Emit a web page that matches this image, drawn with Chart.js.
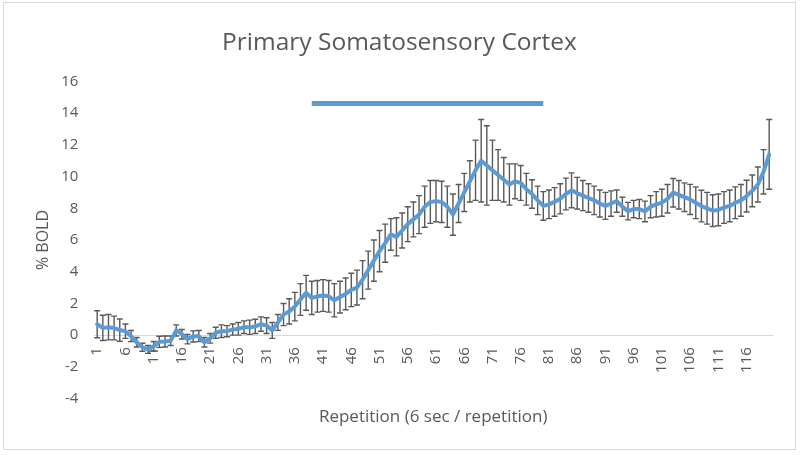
<!DOCTYPE html>
<html><head><meta charset="utf-8">
<script src="https://cdn.jsdelivr.net/npm/chart.js@4.4.0/dist/chart.umd.min.js"></script>
<style>
html,body{margin:0;padding:0;background:#fff}
#wrap{position:relative;width:800px;height:455px}
#frame{position:absolute;left:3px;top:2px;width:791px;height:446px;border:1px solid #d9d9d9;pointer-events:none}
</style></head><body>
<div id="wrap"><canvas id="c"></canvas><div id="frame"></div></div>
<script>
const categories = [1,2,3,4,5,6,7,8,9,10,11,12,13,14,15,16,17,18,19,20,
21,22,23,24,25,26,27,28,29,30,31,32,33,34,35,36,37,38,39,40,
41,42,43,44,45,46,47,48,49,50,51,52,53,54,55,56,57,58,59,60,
61,62,63,64,65,66,67,68,69,70,71,72,73,74,75,76,77,78,79,80,
81,82,83,84,85,86,87,88,89,90,91,92,93,94,95,96,97,98,99,100,
101,102,103,104,105,106,107,108,109,110,111,112,113,114,115,116,117,118,119,120];

const meanBold = [0.69,0.46,0.5,0.45,0.32,0.25,-0.06,-0.45,-0.76,-0.9,
-0.7,-0.42,-0.4,-0.35,0.3,0.06,-0.25,-0.08,-0.06,-0.45,
-0.2,0.15,0.25,0.25,0.35,0.4,0.5,0.5,0.55,0.7,
0.6,0.3,0.8,1.3,1.5,1.8,2.25,2.67,2.35,2.45,
2.5,2.45,2.2,2.4,2.6,2.85,3.0,3.5,4.1,4.7,
5.3,5.8,6.35,6.2,6.6,7.0,7.3,7.6,8.1,8.4,
8.45,8.4,8.1,7.6,8.3,9.0,9.7,10.4,11.0,10.7,
10.4,10.1,9.8,9.5,9.7,9.6,9.2,8.9,8.5,8.15,
8.25,8.4,8.6,8.9,9.13,8.95,8.8,8.65,8.5,8.3,
8.15,8.3,8.45,8.1,7.82,7.95,7.95,7.8,8.1,8.25,
8.35,8.6,8.98,8.85,8.7,8.56,8.35,8.14,8.0,7.85,
7.9,8.05,8.15,8.35,8.5,8.77,9.1,9.5,10.3,11.4];

const errBold = [0.85,0.8,0.8,0.75,0.7,0.45,0.35,0.3,0.25,0.25,
0.3,0.35,0.35,0.3,0.35,0.3,0.3,0.35,0.35,0.3,
0.3,0.35,0.4,0.35,0.35,0.4,0.4,0.45,0.45,0.45,
0.5,0.5,0.5,0.7,0.8,0.9,1.0,1.1,1.05,1.0,
1.0,1.0,1.05,1.0,1.0,1.05,1.1,1.2,1.2,1.3,
1.3,1.2,1.0,1.2,1.1,1.1,1.1,1.2,1.3,1.35,
1.3,1.3,1.3,1.3,1.2,1.2,1.3,1.9,2.6,2.5,
1.9,1.6,1.4,1.3,1.1,1.1,1.0,0.9,0.9,0.9,
0.9,0.9,0.95,1.0,1.1,1.0,0.95,0.9,0.9,0.85,
0.85,0.8,0.7,0.6,0.55,0.55,0.6,0.65,0.7,0.8,
0.85,0.9,0.9,0.9,0.9,0.95,1.0,1.0,1.0,1.0,
1.0,1.0,1.0,1.0,1.0,1.0,1.0,1.1,1.4,2.2];

const stimValue = 14.6;
const stimStart = 39;
const stimEnd = 80;
const stimLine = categories.map(c => (c >= stimStart && c <= stimEnd) ? stimValue : null);

const yTicks = [-4,-2,0,2,4,6,8,10,12,14,16];

const gray = '#595959';
const blue = '#5B9BD5';
const FONT = '"Open Sans", Lato, sans-serif';

const errorBars = {
  id: 'errorBars',
  beforeDatasetsDraw(chart) {
    const {ctx, scales: {x, y}} = chart;
    ctx.save();
    ctx.strokeStyle = gray;
    ctx.lineWidth = 1.4;
    meanBold.forEach((m, i) => {
      const px = x.getPixelForValue(i);
      const top = y.getPixelForValue(m + errBold[i]);
      const bot = y.getPixelForValue(m - errBold[i]);
      ctx.beginPath();
      ctx.moveTo(px, top); ctx.lineTo(px, bot);
      ctx.moveTo(px - 3, top); ctx.lineTo(px + 3, top);
      ctx.moveTo(px - 3, bot); ctx.lineTo(px + 3, bot);
      ctx.stroke();
    });
    ctx.restore();
  }
};

new Chart(document.getElementById('c'), {
  type: 'line',
  data: {
    labels: categories,
    datasets: [
      {
        label: 'Stimulation',
        data: stimLine,
        borderColor: blue,
        borderWidth: 5,
        pointRadius: 0,
        spanGaps: false,
        borderCapStyle: 'butt'
      },
      {
        label: '% BOLD',
        data: meanBold,
        borderColor: blue,
        borderWidth: 4,
        pointRadius: 0,
        tension: 0,
        borderJoinStyle: 'round',
        borderCapStyle: 'round'
      }
    ]
  },
  options: {
    responsive: true,
    maintainAspectRatio: false,
    animation: false,
    layout: { padding: { left: 27, right: 28, top: 18, bottom: 24 } },
    plugins: {
      legend: { display: false },
      tooltip: { enabled: false },
      title: {
        display: true,
        text: 'Primary Somatosensory Cortex',
        color: gray,
        font: { family: FONT, size: 24.5, weight: 'normal' },
        padding: { top: 10, bottom: 24 }
      }
    },
    scales: {
      x: {
        type: 'category',
        offset: true,
        position: { y: 0 },
        grid: { display: false },
        border: { display: true, color: '#d9d9d9', width: 1 },
        ticks: {
          autoSkip: false,
          maxRotation: 90,
          minRotation: 90,
          padding: 4,
          color: gray,
          font: { family: FONT, size: 15 },
          callback: (v, i) => (i % 5 === 0 ? String(categories[i]) : '')
        }
      },
      x2: {
        type: 'category',
        labels: categories,
        offset: true,
        position: 'bottom',
        grid: { display: false },
        border: { display: false },
        ticks: { display: false },
        title: {
          display: true,
          text: 'Repetition (6 sec / repetition)',
          color: gray,
          font: { family: FONT, size: 17 },
          padding: { top: 0, bottom: 4 }
        }
      },
      y: {
        min: -4,
        max: 16,
        afterBuildTicks: (s) => { s.ticks = yTicks.map(v => ({ value: v })); },
        grid: { display: false },
        border: { display: false },
        ticks: {
          color: gray,
          padding: 8,
          font: { family: FONT, size: 15 }
        },
        title: {
          display: true,
          text: '% BOLD',
          color: gray,
          font: { family: FONT, size: 16 },
          padding: { top: 7, bottom: 0 }
        }
      }
    }
  },
  plugins: [errorBars]
});
</script>
</body></html>
